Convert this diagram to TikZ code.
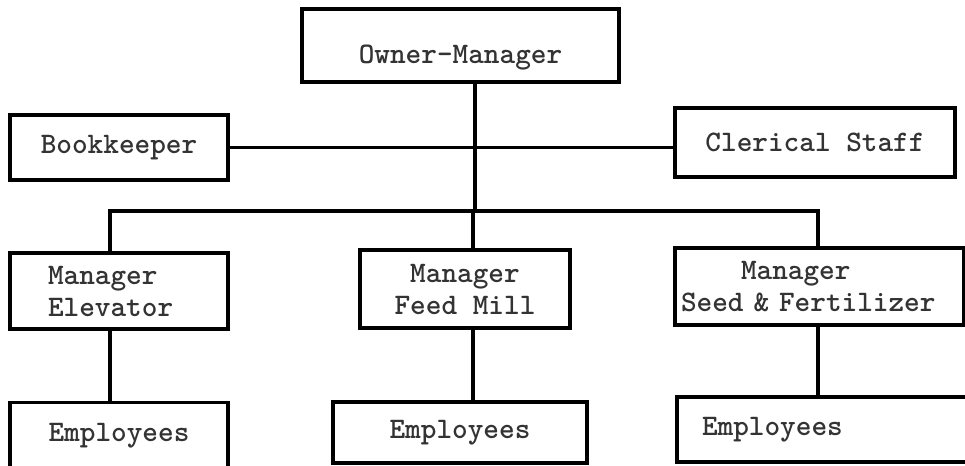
\documentclass[tikz,border=0pt]{standalone}
\usepackage{tikz}
\usetikzlibrary{calc}
\tikzset{
	orgbox/.style={draw=black, line width=1.8pt, rectangle, inner sep=0pt,
		text=black!80, font=\fontsize{14.9}{16}\selectfont\ttfamily\bfseries, align=center},
	link/.style={black, line width=1.6pt},
}

\begin{document}
\begin{tikzpicture}[x=0.5pt, y=-0.5pt, line cap=rect, line join=miter]
		\useasboundingbox (0,0) rectangle (965,466);
		\clip (0,0) rectangle (965,466);
		
		% Top of the chart
		\node[orgbox, minimum width=158.5pt, minimum height=36.5pt,
			text height=21pt, text depth=3.3pt] (owner) at (460.5,45.5) {Owner-Manager};
		
		% Staff level
		\node[orgbox, minimum width=109pt, minimum height=32.5pt] (book) at (119,147.5) {Bookkeeper};
		\node[orgbox, minimum width=140pt, minimum height=34.5pt] (cler) at (815,142.5) {Clerical Staff};
		
		% Managers
		\node[orgbox, minimum height=38pt, inner xsep=19pt, text width=71pt, align=left] (elev) at (119,291)
			{Manager\\Elevator};
		\node[orgbox, minimum width=105pt, minimum height=39pt] (feed) at (465,289)
			{Manager\\Feed Mill};
		\node[orgbox, minimum height=38.5pt, inner xsep=3pt, text width=138.5pt, align=left] (seed) at (819.5,286.5)
			{\hspace*{30pt}Manager\\Seed \& Fertilizer};
		
		% Employees
		\node[orgbox, minimum width=109pt, minimum height=33.5pt] (empa) at (119,436) {Employees};
		\node[orgbox, minimum width=127pt, minimum height=30.5pt] (empb) at (460,432.5) {Employees};
		\node[orgbox, minimum height=32.5pt, inner xsep=12.5pt, text width=124pt, align=left] (empc) at (826,429.5)
			{Employees};
		
		% Connectors
		\coordinate (trunk) at (475,211);
		\coordinate (busl) at (110,211);
		\coordinate (busm) at (473,211);
		\coordinate (busr) at (818,211);
		
		\draw[link] (owner.south -| trunk) -- (trunk);
		\draw[link] (book.east) -- (book.east -| cler.west);
		\draw[link] (busl) -- (busr);
		
		\draw[link] (busl) -- (busl |- elev.north);
		\draw[link] (busm) -- (busm |- feed.north);
		\draw[link] (busr) -- (busr |- seed.north);
		
		\draw[link] (elev.south -| busl) -- (busl |- empa.north);
		\draw[link] (feed.south -| busm) -- (busm |- empb.north);
		\draw[link] (seed.south -| busr) -- (busr |- empc.north);
	\end{tikzpicture}
\end{document}
